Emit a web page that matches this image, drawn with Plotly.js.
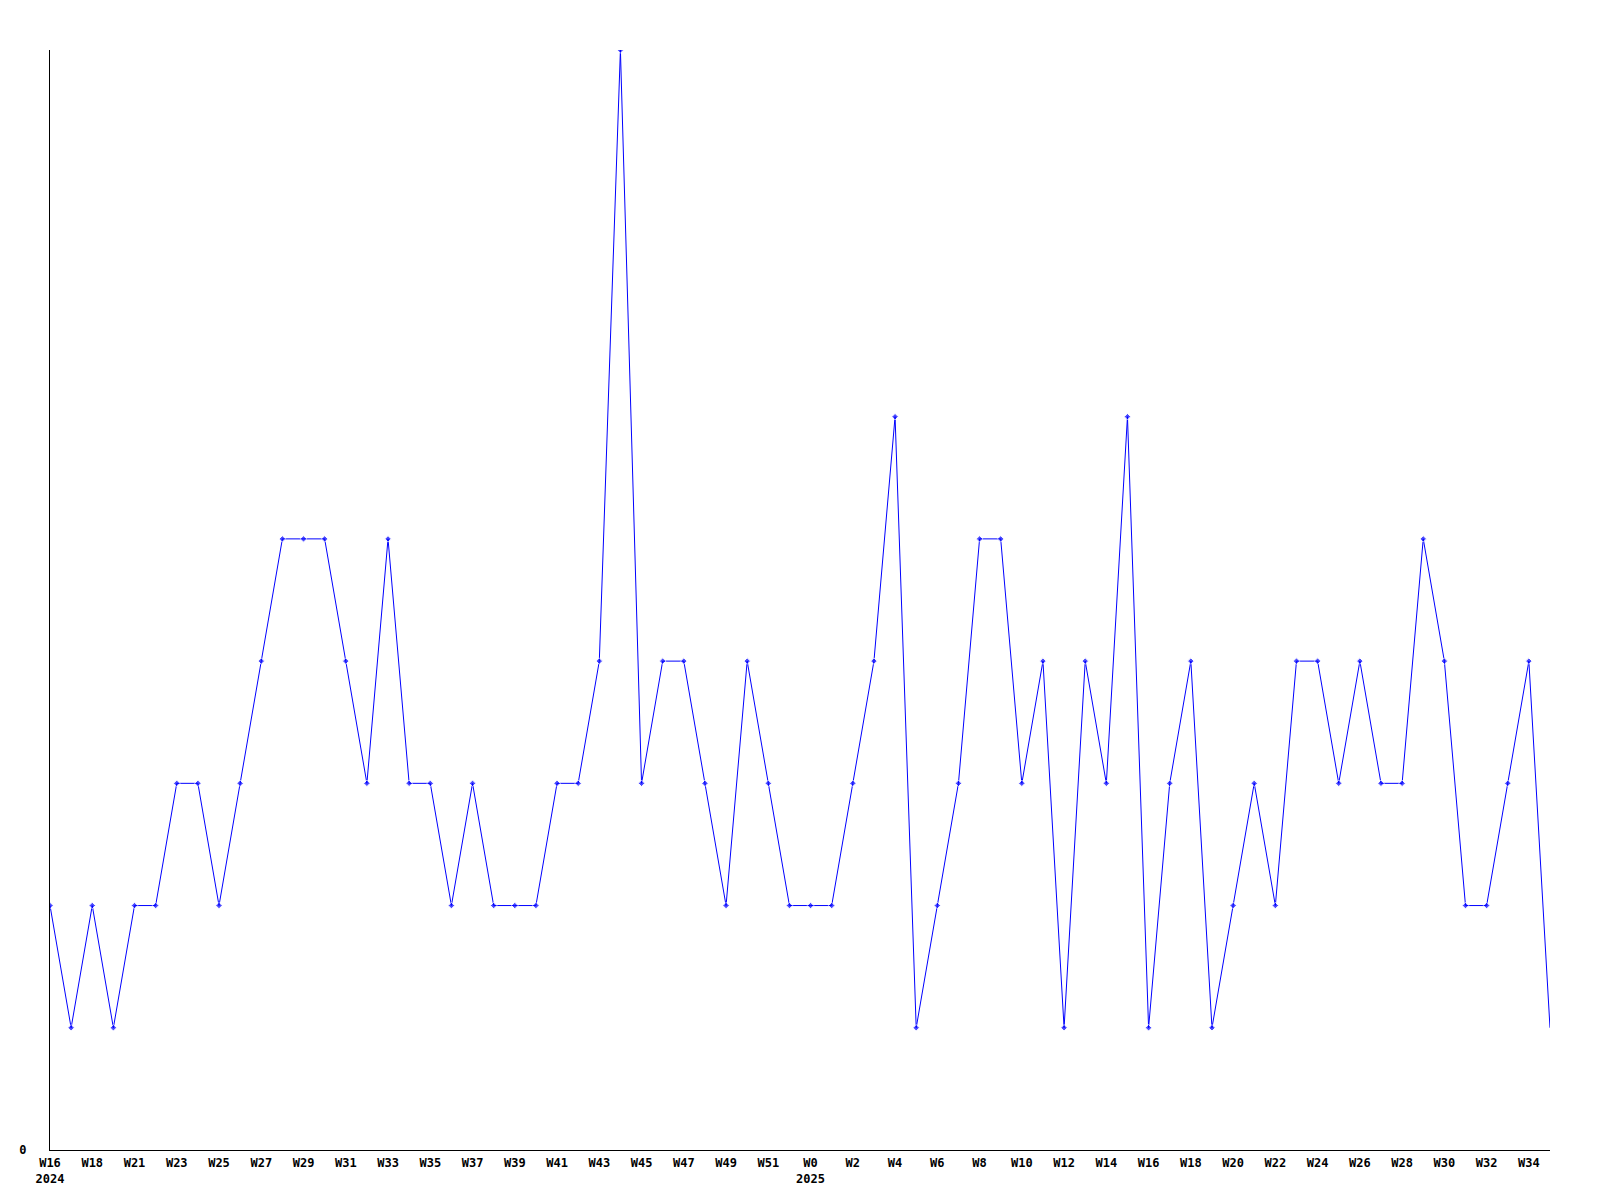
<!DOCTYPE html>
<html>
<head>
<meta charset="utf-8">
<script src="https://cdn.plot.ly/plotly-3.0.1.min.js"></script>
<style>html,body{margin:0;padding:0;background:#fff;}#chart{width:1600px;height:1200px;}</style>
</head>
<body>
<div id="chart"></div>
<script>
// Week categories (2024 W16 ... 2025 W35)
const weeks = [
  "2024-W16","2024-W17","2024-W18","2024-W20","2024-W21","2024-W22","2024-W23","2024-W24",
  "2024-W25","2024-W26","2024-W27","2024-W28","2024-W29","2024-W30","2024-W31","2024-W32",
  "2024-W33","2024-W34","2024-W35","2024-W36","2024-W37","2024-W38","2024-W39","2024-W40",
  "2024-W41","2024-W42","2024-W43","2024-W44","2024-W45","2024-W46","2024-W47","2024-W48",
  "2024-W49","2024-W50","2024-W51","2024-W52",
  "2025-W0","2025-W1","2025-W2","2025-W3","2025-W4","2025-W5","2025-W6","2025-W7",
  "2025-W8","2025-W9","2025-W10","2025-W11","2025-W12","2025-W13","2025-W14","2025-W15",
  "2025-W16","2025-W17","2025-W18","2025-W19","2025-W20","2025-W21","2025-W22","2025-W23",
  "2025-W24","2025-W25","2025-W26","2025-W27","2025-W28","2025-W29","2025-W30","2025-W31",
  "2025-W32","2025-W33","2025-W34","2025-W35"
];
const counts = [
  2,1,2,1,2,2,3,3,
  2,3,4,5,5,5,4,3,
  5,3,3,2,3,2,2,2,
  3,3,4,9,3,4,4,3,
  2,4,3,2,
  2,2,3,4,6,1,2,3,
  5,5,3,4,1,4,3,6,
  1,3,4,1,2,3,2,4,
  4,3,4,3,3,5,4,2,
  2,3,4,1
];
const tickWeeks = [
  "2024-W16","2024-W18","2024-W21","2024-W23","2024-W25","2024-W27","2024-W29","2024-W31",
  "2024-W33","2024-W35","2024-W37","2024-W39","2024-W41","2024-W43","2024-W45","2024-W47",
  "2024-W49","2024-W51","2025-W0","2025-W2","2025-W4","2025-W6","2025-W8","2025-W10",
  "2025-W12","2025-W14","2025-W16","2025-W18","2025-W20","2025-W22","2025-W24","2025-W26",
  "2025-W28","2025-W30","2025-W32","2025-W34"
];
const tickLabels = [
  "W16<br>2024","W18","W21","W23","W25","W27","W29","W31",
  "W33","W35","W37","W39","W41","W43","W45","W47",
  "W49","W51","W0<br>2025","W2","W4","W6","W8","W10",
  "W12","W14","W16","W18","W20","W22","W24","W26",
  "W28","W30","W32","W34"
];

const markerSizes = counts.map((v, i) => i === counts.length - 1 ? 0 : 5);

const trace = {
  x: weeks,
  y: counts,
  type: "scatter",
  mode: "lines+markers",
  line: {color: "#0000ff", width: 1},
  marker: {color: "#0000ff", symbol: "diamond", size: markerSizes},
  hoverinfo: "x+y"
};

const fontMono = {family: "DejaVu Sans Mono, monospace", size: 12, color: "#000", weight: "bold"};

const layout = {
  width: 1600,
  height: 1200,
  margin: {l: 50, r: 50, t: 50, b: 50, pad: 0},
  paper_bgcolor: "#fff",
  plot_bgcolor: "#fff",
  showlegend: false,
  font: fontMono,
  xaxis: {
    type: "category",
    categoryorder: "array",
    categoryarray: weeks,
    range: [0, weeks.length - 1],
    tickmode: "array",
    tickvals: tickWeeks,
    ticktext: tickLabels,
    tickangle: 0,
    showgrid: false,
    zeroline: false,
    showline: true,
    linecolor: "#000",
    linewidth: 1,
    ticks: "",
    ticklabelstandoff: 2,
    tickfont: fontMono
  },
  yaxis: {
    range: [0, 9],
    tickmode: "array",
    tickvals: [0],
    ticktext: ["0"],
    showgrid: false,
    zeroline: false,
    showline: true,
    linecolor: "#000",
    linewidth: 1,
    ticks: "",
    ticklabelstandoff: 20,
    tickfont: fontMono
  }
};

Plotly.newPlot("chart", [trace], layout, {displayModeBar: false, staticPlot: true});
</script>
</body>
</html>
